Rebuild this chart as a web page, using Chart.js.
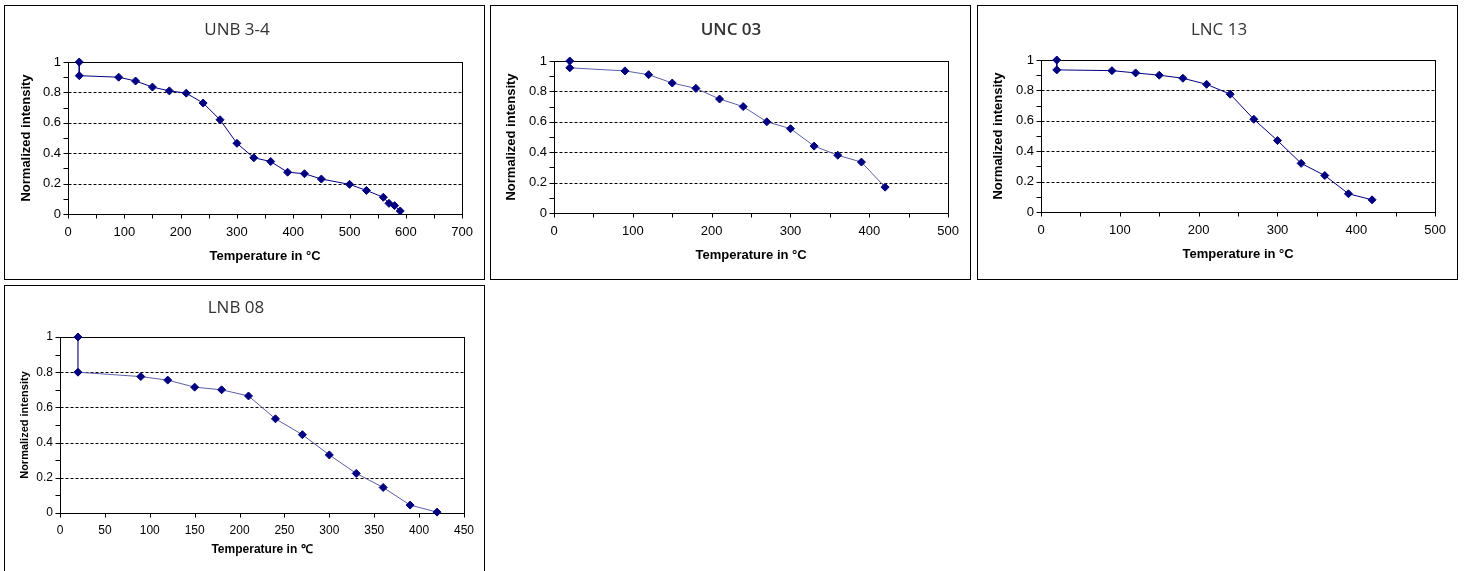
<!DOCTYPE html>
<html>
<head>
<meta charset="utf-8">
<script src="https://cdn.jsdelivr.net/npm/chart.js@4.4.1/dist/chart.umd.min.js"></script>
<style>
  body { margin: 0; background: #fff; width: 1465px; height: 571px; overflow: hidden; position: relative; }
  .panel { position: absolute; box-sizing: border-box; border: 1px solid #000; background: #fff; }
  .panel canvas { display: block; }
</style>
</head>
<body>
<div class="panel" style="left:4px;top:5px;width:481px;height:275px"><canvas id="unb34Chart" width="479" height="273"></canvas></div>
<div class="panel" style="left:490px;top:5px;width:481px;height:275px"><canvas id="unc03Chart" width="479" height="273"></canvas></div>
<div class="panel" style="left:977px;top:5px;width:481px;height:275px"><canvas id="lnc13Chart" width="479" height="273"></canvas></div>
<div class="panel" style="left:4px;top:285px;width:481px;height:300px"><canvas id="lnb08Chart" width="479" height="298"></canvas></div>

<script>
// Data
const unb34Temp = [20, 20, 90, 120, 150, 180, 210, 240, 270, 300, 330, 360, 390, 420, 450, 500, 530, 560, 570, 580, 590];
const unb34Int = [1.0, 0.91, 0.90, 0.875, 0.835, 0.81, 0.795, 0.73, 0.62, 0.465, 0.37, 0.345, 0.275, 0.265, 0.23, 0.195, 0.155, 0.11, 0.07, 0.055, 0.02];

const unc03Temp = [20, 20, 90, 120, 150, 180, 210, 240, 270, 300, 330, 360, 390, 420];
const unc03Int = [1.0, 0.955, 0.935, 0.91, 0.855, 0.82, 0.75, 0.70, 0.60, 0.555, 0.44, 0.38, 0.335, 0.17];

const lnc13Temp = [20, 20, 90, 120, 150, 180, 210, 240, 270, 300, 330, 360, 390, 420];
const lnc13Int = [1.0, 0.935, 0.93, 0.915, 0.90, 0.88, 0.84, 0.775, 0.61, 0.47, 0.32, 0.24, 0.12, 0.08];

const lnb08Temp = [20, 20, 90, 120, 150, 180, 210, 240, 270, 300, 330, 360, 390, 420];
const lnb08Int = [1.0, 0.80, 0.775, 0.755, 0.715, 0.70, 0.665, 0.535, 0.445, 0.33, 0.225, 0.145, 0.045, 0.005];

const yTickValues = [0, 0.2, 0.4, 0.6, 0.8, 1];
const yTickLabels = ['0', '0.2', '0.4', '0.6', '0.8', '1'];
const yGridValues = [0.2, 0.4, 0.6, 0.8];

const tickFamily = "'Liberation Sans', Arial, sans-serif";
const boldFamily = "'Liberation Sans', Arial, sans-serif";

// Excel style frame: solid plot border, dashed gridlines, minor tick marks
const excelFrame = {
  id: 'excelFrame',
  beforeDatasetsDraw(chart) {
    const { ctx, chartArea: a } = chart;
    const x = chart.scales.x, y = chart.scales.y;
    const L = Math.round(a.left) + 0.5, R = Math.round(a.right) + 0.5;
    const T = Math.round(a.top) + 0.5, B = Math.round(a.bottom) + 0.5;
    const line = (x1, y1, x2, y2) => { ctx.beginPath(); ctx.moveTo(x1, y1); ctx.lineTo(x2, y2); ctx.stroke(); };
    ctx.save();
    ctx.lineWidth = 1;
    ctx.strokeStyle = '#000';
    ctx.setLineDash([3, 2]);
    yGridValues.forEach(v => {
      const py = Math.round(y.getPixelForValue(v)) + 0.5;
      line(L, py, R, py);
    });
    ctx.setLineDash([]);
    ctx.strokeRect(L, T, R - L, B - T);
    for (let i = 0; i <= 10; i++) {
      const py = Math.round(y.getPixelForValue(i / 10)) + 0.5;
      line(L - 5, py, L, py);
    }
    for (let v = 0; v <= x.max; v += 50) {
      const px = Math.round(x.getPixelForValue(v)) + 0.5;
      line(px, B, px, B + 4);
    }
    ctx.restore();
  }
};

// Panel heading, placed where the original put it
const panelTitle = {
  id: 'panelTitle',
  afterDraw(chart, args, opts) {
    const ctx = chart.ctx;
    ctx.save();
    ctx.font = `${opts.weight} 17px 'Open Sans', 'Noto Sans', sans-serif`;
    ctx.fillStyle = '#333';
    ctx.textAlign = 'center';
    ctx.textBaseline = 'middle';
    ctx.fillText(opts.text, opts.x, opts.y);
    ctx.restore();
  }
};

function makeChart(id, temps, values, p) {
  const ctx = document.getElementById(id);
  const points = temps.map((t, i) => ({ x: t, y: values[i] }));

  return new Chart(ctx, {
    type: 'scatter',
    data: {
      datasets: [{
        data: points,
        showLine: true,
        clip: false,
        borderColor: p.lineColor,
        borderWidth: 1,
        pointStyle: 'rectRot',
        pointRadius: 4,
        pointBackgroundColor: '#000080',
        pointBorderColor: '#000080',
        pointBorderWidth: 1
      }]
    },
    options: {
      responsive: false,
      animation: false,
      events: [],
      layout: {
        padding: { top: p.top, right: p.right, left: 0, bottom: 0 }
      },
      scales: {
        x: {
          type: 'linear',
          min: 0,
          max: p.xMax,
          grid: { display: false, drawTicks: false },
          border: { display: false },
          ticks: {
            stepSize: p.xStep,
            padding: p.xTickPad,
            color: '#000',
            maxRotation: 0,
            font: { family: tickFamily, size: p.tickSize }
          },
          title: {
            display: true,
            text: p.xTitle,
            color: '#000',
            font: { family: boldFamily, size: p.xTitleSize, weight: 'bold' },
            padding: { top: 0, bottom: p.xTitlePad }
          },
          afterFit: scale => { scale.height = p.xHeight; }
        },
        y: {
          type: 'linear',
          min: 0,
          max: 1,
          grid: { display: false, drawTicks: false },
          border: { display: false },
          afterBuildTicks: scale => { scale.ticks = yTickValues.map(v => ({ value: v })); },
          ticks: {
            padding: 7,
            color: '#000',
            font: { family: tickFamily, size: p.tickSize },
            callback: (value, i) => yTickLabels[i]
          },
          title: {
            display: true,
            text: 'Normalized intensity',
            color: '#000',
            font: { family: boldFamily, size: p.yTitleSize, weight: 'bold' },
            padding: { top: p.yTitlePad, bottom: 0 }
          },
          afterFit: scale => { scale.width = p.yWidth; }
        }
      },
      plugins: {
        legend: { display: false },
        tooltip: { enabled: false },
        panelTitle: { text: p.title, x: p.titleX, y: p.titleY, weight: p.titleWeight }
      }
    },
    plugins: [excelFrame, panelTitle]
  });
}

makeChart('unb34Chart', unb34Temp, unb34Int, {
  title: 'UNB 3-4', titleX: 232, titleY: 24, titleWeight: 400,
  lineColor: '#000080', xMax: 700, xStep: 100, xTitle: 'Temperature in °C',
  top: 56, right: 21, yWidth: 63, xHeight: 65,
  tickSize: 13, xTickPad: 11, xTitleSize: 13, xTitlePad: 15, yTitleSize: 13, yTitlePad: 14
});

makeChart('unc03Chart', unc03Temp, unc03Int, {
  title: 'UNC 03', titleX: 240, titleY: 24, titleWeight: 600,
  lineColor: '#5e5ea8', xMax: 500, xStep: 100, xTitle: 'Temperature in °C',
  top: 55, right: 21, yWidth: 63, xHeight: 66,
  tickSize: 13, xTickPad: 11, xTitleSize: 13, xTitlePad: 16, yTitleSize: 13, yTitlePad: 13
});

makeChart('lnc13Chart', lnc13Temp, lnc13Int, {
  title: 'LNC 13', titleX: 241, titleY: 24, titleWeight: 400,
  lineColor: '#000080', xMax: 500, xStep: 100, xTitle: 'Temperature in °C',
  top: 54, right: 21, yWidth: 63, xHeight: 67,
  tickSize: 13, xTickPad: 11, xTitleSize: 13, xTitlePad: 17, yTitleSize: 13, yTitlePad: 13
});

makeChart('lnb08Chart', lnb08Temp, lnb08Int, {
  title: 'LNB 08', titleX: 231, titleY: 22, titleWeight: 400,
  lineColor: '#5e5ea8', xMax: 450, xStep: 50, xTitle: 'Temperature in ℃',
  top: 51, right: 20, yWidth: 55, xHeight: 71,
  tickSize: 12, xTickPad: 10, xTitleSize: 12, xTitlePad: 27, yTitleSize: 11, yTitlePad: 13
});
</script>
</body>
</html>
